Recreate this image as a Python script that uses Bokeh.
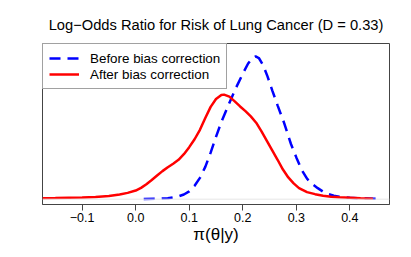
from bokeh.plotting import figure
from bokeh.models import Range1d, Span, FixedTicker, Legend, LegendItem, Title
from bokeh.embed import file_html
from bokeh.resources import INLINE

# Data (density estimates)
before_x = [0.015, 0.04, 0.06, 0.08, 0.09, 0.10, 0.11, 0.12, 0.13, 0.14, 0.15, 0.16, 0.17,
            0.18, 0.19, 0.20, 0.21, 0.218, 0.224, 0.23, 0.238, 0.246, 0.255, 0.265, 0.277,
            0.29, 0.30, 0.31, 0.32, 0.33, 0.34, 0.35, 0.36, 0.37, 0.38, 0.39, 0.40, 0.42, 0.454]
before_y = [0.02, 0.03, 0.06, 0.18, 0.30, 0.50, 0.85, 1.35, 2.05, 2.95, 3.95, 4.90, 5.70,
            6.50, 7.25, 7.95, 8.60, 8.95, 9.05, 8.95, 8.50, 7.80, 6.90, 5.95, 4.85,
            3.50, 2.65, 1.85, 1.30, 0.95, 0.70, 0.48, 0.32, 0.22, 0.16, 0.12, 0.09, 0.05, 0.02]

after_x = [-0.174, -0.15, -0.10, -0.075, -0.05, -0.03, -0.015, 0.0, 0.01, 0.02, 0.03, 0.04,
           0.05, 0.06, 0.07, 0.08, 0.09, 0.10, 0.11, 0.12, 0.13, 0.14, 0.15, 0.16, 0.165,
           0.175, 0.185, 0.195, 0.205, 0.215, 0.225, 0.235, 0.245, 0.255, 0.265, 0.275,
           0.285, 0.295, 0.305, 0.32, 0.335, 0.35, 0.365, 0.38, 0.40, 0.42, 0.443]
after_y = [0.06, 0.07, 0.11, 0.14, 0.20, 0.30, 0.40, 0.55, 0.72, 0.95, 1.22, 1.50,
           1.78, 2.03, 2.25, 2.50, 2.85, 3.30, 3.80, 4.40, 5.15, 5.85, 6.35, 6.60, 6.63,
           6.50, 6.20, 5.88, 5.58, 5.25, 4.85, 4.30, 3.70, 3.10, 2.50, 1.88,
           1.38, 1.00, 0.70, 0.45, 0.32, 0.22, 0.16, 0.12, 0.09, 0.06, 0.03]

x_ticks = [-0.1, 0.0, 0.1, 0.2, 0.3, 0.4]
tick_labels = {-0.1: "\u22120.1", 0.0: "0.0", 0.1: "0.1", 0.2: "0.2", 0.3: "0.3", 0.4: "0.4"}

title_text = "Log\u2212Odds Ratio for Risk of Lung Cancer (D = 0.33)"
legend_labels = ["Before bias correction", "After bias correction"]

FONT = "Liberation Sans"
X0, X1, Y0, Y1 = -0.174, 0.474, -0.336, 9.87

p = figure(frame_width=347, frame_height=161, output_backend="svg", toolbar_location=None,
           x_range=Range1d(X0, X1), y_range=Range1d(Y0, Y1),
           min_border_left=42, min_border_right=14, min_border_top=43, min_border_bottom=44)

p.title = Title(text=title_text, align="center", vertical_align="bottom", standoff=21,
                text_font=FONT, text_font_size="14.7px",
                text_font_style="normal", text_color="black")

p.background_fill_color = "white"
p.border_fill_color = "white"
p.outline_line_color = "#444444"
p.outline_line_width = 1
p.grid.visible = False
p.yaxis.visible = False

xa = p.xaxis[0]
xa.ticker = FixedTicker(ticks=x_ticks)
xa.major_label_overrides = tick_labels
xa.minor_tick_line_color = None
xa.major_tick_in = 0
xa.major_tick_out = 6
xa.major_tick_line_color = "#444444"
xa.axis_line_color = "#444444"
xa.major_label_text_font = FONT
xa.major_label_text_font_size = "12.5px"
xa.major_label_text_color = "black"
xa.major_label_standoff = 2
xa.axis_label = "\u03c0(\u03b8|y)"
xa.axis_label_text_font = FONT
xa.axis_label_text_font_size = "17px"
xa.axis_label_text_font_style = "normal"
xa.axis_label_text_color = "black"
xa.axis_label_standoff = 0

p.add_layout(Span(location=0, dimension="width", line_color="#e6e6e6", line_width=1))

r_before = p.line(before_x, before_y, line_color="#0000ff", line_width=2.5, line_dash="11 7")
r_after = p.line(after_x, after_y, line_color="#ff0000", line_width=2.5)

legend = Legend(items=[LegendItem(label=legend_labels[0], renderers=[r_before]),
                       LegendItem(label=legend_labels[1], renderers=[r_after])],
                location="top_left", margin=0, padding=6, spacing=0,
                glyph_width=30, glyph_height=16, label_height=16, label_standoff=11,
                label_text_font=FONT, label_text_font_size="13.4px", label_text_color="black",
                border_line_color="#444444", border_line_width=1,
                background_fill_color="white", background_fill_alpha=1.0)
p.add_layout(legend)

open("out.html", "w").write(file_html(p, INLINE))
